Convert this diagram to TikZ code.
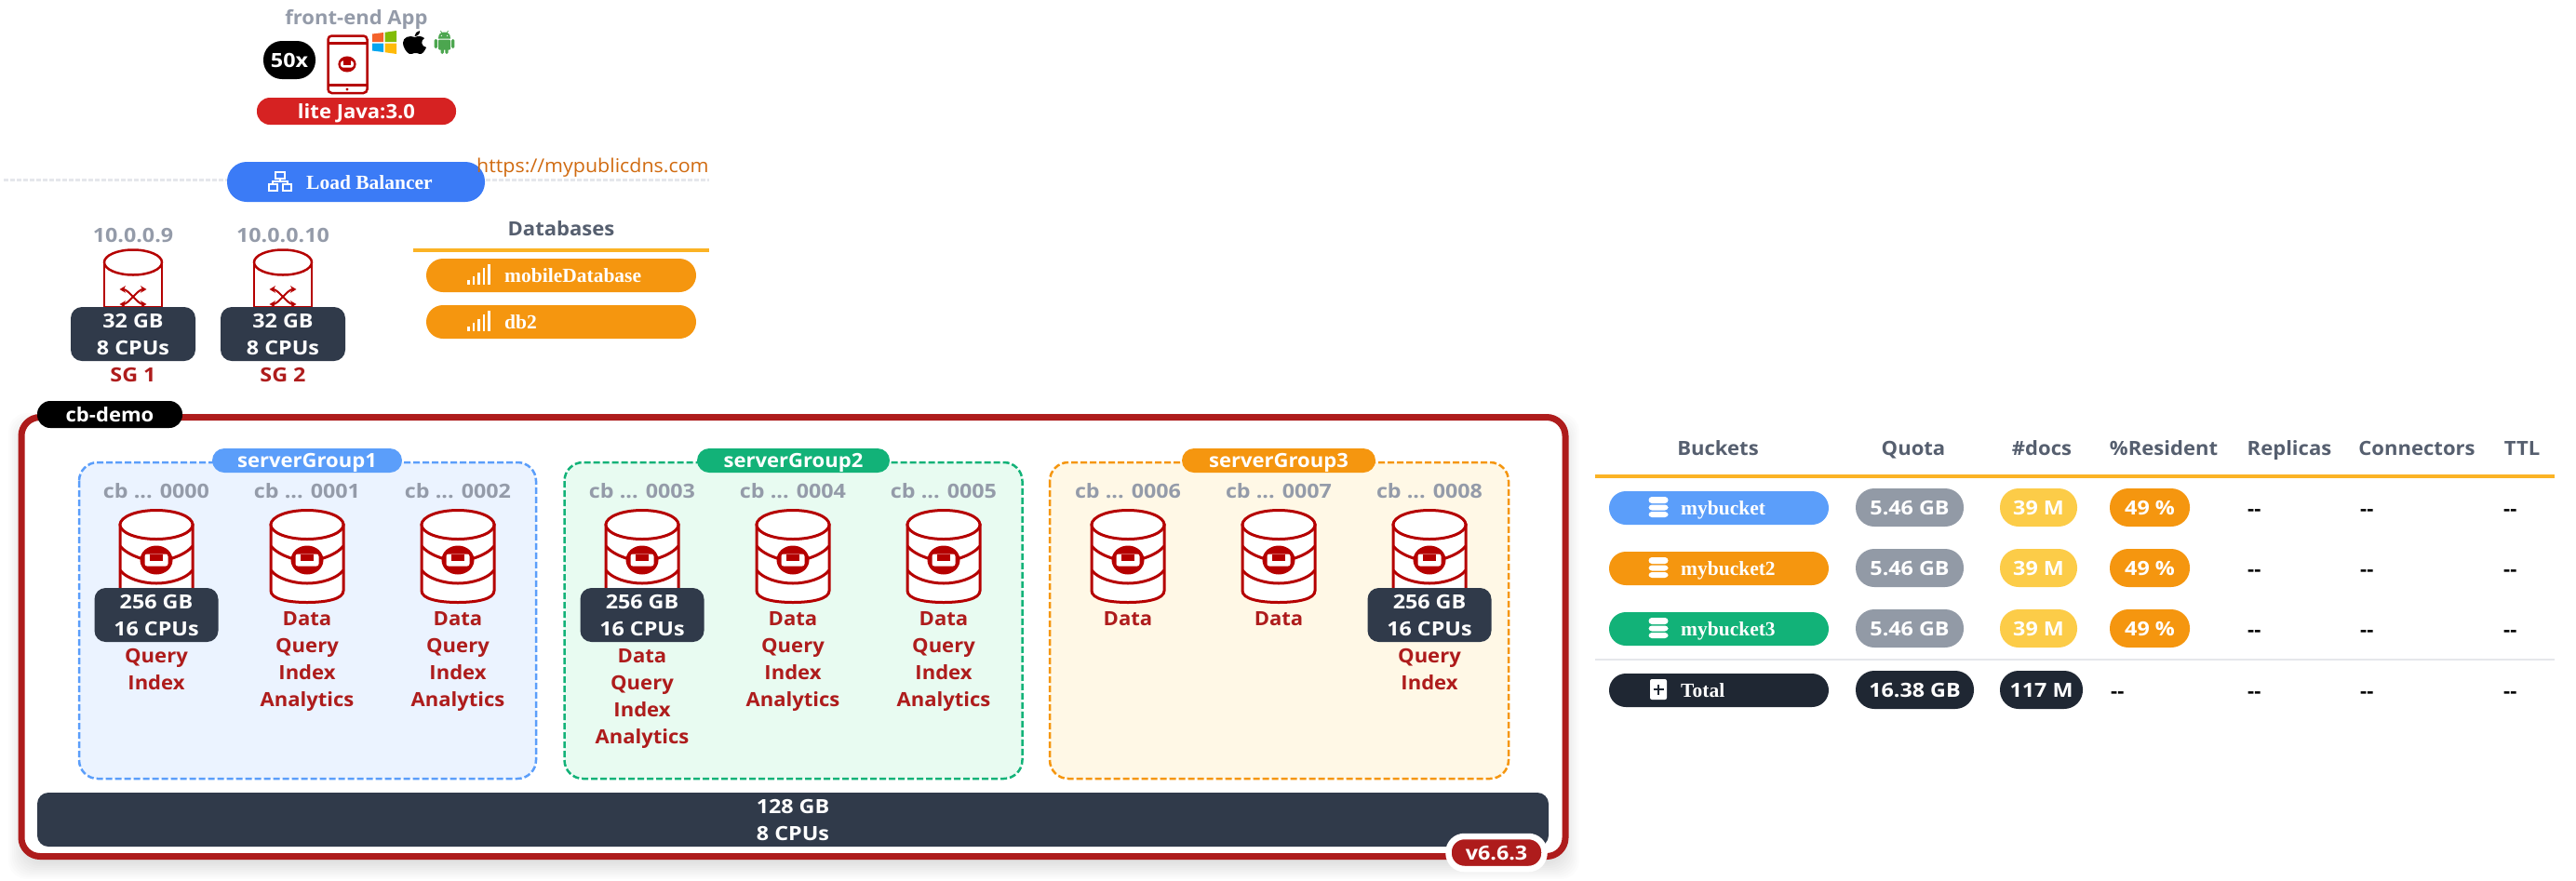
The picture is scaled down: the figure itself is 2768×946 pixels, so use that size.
\documentclass[tikz,border=0pt]{standalone}
\usepackage{fontspec}
\setmainfont{Open Sans}[FakeStretch=1.05]
\newfontfamily\numfont{Open Sans}[FakeStretch=1.11]
\newfontfamily\pillfont{Liberation Serif}
\usetikzlibrary{%
  arrows.meta,%
  positioning% wg. " of "
}
\definecolor{cbred}{HTML}{AE1C1C}
\definecolor{iconred}{HTML}{B50000}
\definecolor{liteRed}{HTML}{D62222}
\definecolor{slatebox}{HTML}{303A4A}
\definecolor{mute}{HTML}{949BA9}
\definecolor{headgray}{HTML}{565F6F}
\definecolor{blueline}{HTML}{5B9EFA}
\definecolor{greenline}{HTML}{12B278}
\definecolor{orangeline}{HTML}{F5960F}
\definecolor{lbblue}{HTML}{3B7BF6}
\definecolor{urlcolor}{HTML}{D06A10}
\definecolor{rule}{HTML}{FBB325}
\definecolor{palegray}{HTML}{E5E7EB}
\definecolor{nightbox}{HTML}{1F2733}
\definecolor{quotagray}{HTML}{929AA6}
\definecolor{docsyellow}{HTML}{FCCC48}
\definecolor{bluebg}{HTML}{EBF3FF}
\definecolor{greenbg}{HTML}{E8FBF1}
\definecolor{orangebg}{HTML}{FFF8E6}
\definecolor{winorange}{HTML}{F4622B}
\definecolor{wingreen}{HTML}{81BC06}
\definecolor{winblue}{HTML}{05A6F0}
\definecolor{winyellow}{HTML}{FFBA08}
\definecolor{droid}{HTML}{4CA64F}

\begin{document}
\begin{tikzpicture}[
    x=1pt, y=-1pt,
    txt/.style={inner sep=0pt, text height=15pt, text depth=0pt, font=\bfseries\fontsize{21}{29}\selectfont},
    num/.style={font=\numfont\bfseries\fontsize{21}{29}\selectfont},
    pill/.style={txt, text=white, rounded corners=14pt},
    spec/.style={fill=slatebox, text=white, inner sep=0pt, rounded corners=12pt, minimum height=58pt, minimum width=133pt, align=center, num},
    role/.style={anchor=north, inner sep=0pt, text=cbred, align=center, font=\bfseries\fontsize{21}{29}\selectfont},
    group/.style={line width=2.5pt, dash pattern=on 7pt off 3pt, rounded corners=20pt},
    sertxt/.style={inner sep=0pt, anchor=west, text=white, text height=15pt, text depth=0pt, font=\pillfont\bfseries\fontsize{21.5}{29}\selectfont},
    head/.style={txt, text=headgray},
    nil/.style={txt, anchor=west, text=black},
    cblogo/.pic={
      \fill[iconred] (0,0) ellipse [x radius=17.5pt, y radius=15.5pt];
      \fill[white, rounded corners=2.5pt] (-12.5,-6.5) rectangle (12.5,6.5);
      \fill[iconred] (-7,-6.5) rectangle (7,1);
    },
    server/.pic={
      \filldraw[iconred, fill=white, line width=3pt] (-39,17) -- (-39,88) .. controls (-39,97) and (-20,100.5) .. (0,100.5)
        .. controls (20,100.5) and (39,97) .. (39,88) -- (39,17) -- cycle;
      \filldraw[iconred, fill=white, line width=3pt] (0,17) ellipse [x radius=39pt, y radius=15.5pt];
      \draw[iconred, line width=3pt] (-39,40) .. controls (-33,47) and (-24,51) .. (-14,54);
      \draw[iconred, line width=3pt] (39,40) .. controls (33,47) and (24,51) .. (14,54);
      \draw[iconred, line width=3pt] (-39,66) .. controls (-32,75) and (-15,80) .. (0,80) .. controls (15,80) and (32,75) .. (39,66);
      \pic at (0,55) {cblogo};
    },
    gateway/.pic={
      \filldraw[iconred, fill=white, line width=2.5pt] (-31,15) -- (-31,63) -- (31,63) -- (31,15) -- cycle;
      \filldraw[iconred, fill=white, line width=2.5pt] (0,15) ellipse [x radius=31pt, y radius=13.5pt];
      \draw[iconred, line width=2pt, {Stealth[length=6.5pt,width=7.5pt]}-{Stealth[length=6.5pt,width=7.5pt]}] (-14.5,44) .. controls (-5,44) and (5,60) .. (14.5,60);
      \draw[iconred, line width=2pt, {Stealth[length=6.5pt,width=7.5pt]}-{Stealth[length=6.5pt,width=7.5pt]}] (-14.5,60) .. controls (-5,60) and (5,44) .. (14.5,44);
    },
    sitemap/.pic={
      \draw[white, line width=2pt] (-5,-10) rectangle (5,-3);
      \draw[white, line width=2pt] (-12,3) rectangle (-3,10);
      \draw[white, line width=2pt] (3,3) rectangle (12,10);
      \draw[white, line width=2pt] (0,-3) -- (0,0) (-8,3) -- (-8,0) -- (8,0) -- (8,3);
    },
    bars/.pic={
      \foreach \i/\h in {0/5,1/9,2/13,3/18,4/22}{
        \fill[white] (\i*5.6,0) rectangle (\i*5.6+2.6,-\h);}
    },
    discs/.pic={
      \fill[white, rounded corners=3.5pt] (-10.5,-11) rectangle (10.5,-4);
      \fill[white, rounded corners=3.5pt] (-10.5,-2.5) rectangle (10.5,3.5);
      \fill[white, rounded corners=3.5pt] (-10.5,5) rectangle (10.5,11);
    },
    plusbox/.pic={
      \fill[white, rounded corners=2pt] (-9,-11) rectangle (9,11);
      \draw[nightbox, line width=2.8pt] (-5.5,0) -- (5.5,0) (0,-5.5) -- (0,5.5);
    }
  ]
  \useasboundingbox (0,0) rectangle (2768,946);

  % draw front-end app
  \node[txt, text=mute] at (383,19) (frontend) {front-end App};
  \node[pill, num, fill=black, rounded corners=20pt, minimum width=56pt, minimum height=41pt] at (311,64.5) (count) {50x};
  \node[pill, fill=liteRed, minimum width=214pt, minimum height=29pt] at (383,119.5) (sdk) {lite Java:3.0};
  \draw[iconred, line width=2.5pt, rounded corners=4pt] (352.5,38.5) rectangle (394.5,100);
  \draw[iconred, line width=2.5pt] (352.5,46.5) -- (394.5,46.5) (352.5,91.5) -- (394.5,91.5);
  \fill[iconred] (373,96) circle (1.6pt);
  \pic[scale=.55] at (373,69) {cblogo};

  % windows, apple, android
  \fill[winorange] (400,36.5) -- (412,35) -- (412,45) -- (400,45) -- cycle;
  \fill[wingreen] (413.5,34.8) -- (426,33) -- (426,45) -- (413.5,45) -- cycle;
  \fill[winblue] (400,46.5) -- (412,46.5) -- (412,56) -- (400,54.5) -- cycle;
  \fill[winyellow] (413.5,46.5) -- (426,46.5) -- (426,58) -- (413.5,56.2) -- cycle;
  \fill[black] (446,40) .. controls (449,38.5) and (453,38.5) .. (456,41) .. controls (452,43.5) and (452,49.5) .. (458,51)
    .. controls (456,56) and (453,58.5) .. (451,58) .. controls (449,57.5) and (447.5,56.5) .. (445.5,57)
    .. controls (443,57.5) and (442,58.5) .. (440,58) .. controls (436,56) and (433,50) .. (433,46)
    .. controls (433,40) and (440,37.5) .. (446,40) -- cycle;
  \fill[black] (445.5,39) .. controls (445.5,36) and (448,33.5) .. (451,33) .. controls (451.5,36) and (449,39) .. (445.5,39) -- cycle;
  \fill[droid] (471,41.5) .. controls (471,36) and (474,34.5) .. (477.5,34.5) .. controls (481,34.5) and (484,36) .. (484,41.5) -- cycle;
  \draw[droid, line width=.8pt] (473.5,33) -- (475,36) (481.5,33) -- (480,36);
  \fill[droid, rounded corners=1pt] (471,42.7) rectangle (484,53.5);
  \fill[droid, rounded corners=1.5pt] (466.7,42) rectangle (470,52) (485,42) rectangle (488.4,52)
    (473.5,50) rectangle (476.8,58) (478.4,50) rectangle (481.7,58);
  \fill[white] (474.3,38.3) circle (.7pt) (480.7,38.3) circle (.7pt);

  % draw load balancer
  \draw[palegray, line width=3pt, dash pattern=on 5pt off 2pt] (4,193) -- (762,193);
  \node[pill, fill=lbblue, rounded corners=21pt, minimum width=277pt, minimum height=43pt] at (382.5,195.5) (lb) {};
  \pic at (301,195) {sitemap};
  \node[sertxt] at (329,196) (lbname) {Load Balancer};
  \node[inner sep=0pt, text=urlcolor, anchor=west, text height=15pt, text depth=0pt, font=\fontsize{20.4}{29}\selectfont] at (512,178) (url) {https://mypublicdns.com};

  % draw sync gateways
  \foreach \n/\x/\ip in {1/143/10.0.0.9, 2/304/10.0.0.10}{
    \node[txt, num, text=mute] at (\x,253) (ip\n) {\ip};
    \pic at (\x,267) {gateway};
    \node[spec, minimum width=134pt] at (\x,359) (sg\n) {32 GB\\8 CPUs};
    \node[txt, num, text=cbred] at (\x,403) (sgname\n) {SG \n};}

  % draw databases
  \node[head] at (603,246) (dbhead) {Databases};
  \draw[rule, line width=4pt] (444,269) -- (762,269);
  \foreach \n/\y/\db in {1/296/mobileDatabase, 2/346/db2}{
    \node[pill, fill=orangeline, rounded corners=18pt, minimum width=290pt, minimum height=36pt] at (603,\y) (db\n) {};
    \pic at (502,\y+10) {bars};
    \node[sertxt] at (542,\y) (dbname\n) {\db};}

  % draw cluster
  \foreach \s in {-14,-12,...,14}{
    \fill[black, opacity=.012, rounded corners=20pt] (23-\s,458-\s) rectangle (1683+\s,931+\s);}
  \draw[cbred, fill=white, line width=7pt, rounded corners=20pt] (23,448.5) rectangle (1682,920.5);
  \node[pill, fill=black, minimum width=156pt, minimum height=29pt] at (118,445.5) (cluster) {cb-demo};

  % draw server groups
  \draw[group, draw=blueline, fill=bluebg] (85,497) rectangle (576,837);
  \draw[group, draw=greenline, fill=greenbg] (606.5,497) rectangle (1098.5,837);
  \draw[group, draw=orangeline, fill=orangebg] (1128,497) rectangle (1621,837);
  \node[pill, fill=blueline, rounded corners=13pt, minimum width=204pt, minimum height=26pt] at (330,495) (group1) {serverGroup1};
  \node[pill, fill=greenline, rounded corners=13pt, minimum width=207pt, minimum height=26pt] at (852.5,495) (group2) {serverGroup2};
  \node[pill, fill=orangeline, rounded corners=13pt, minimum width=208pt, minimum height=26pt] at (1374,495) (group3) {serverGroup3};

  % draw servers
  \foreach \n/\x/\t/\roles in {
      0000/168/697.5/{Query\\Index},
      0001/330/657.5/{Data\\Query\\Index\\Analytics},
      0002/492/657.5/{Data\\Query\\Index\\Analytics},
      0003/690/697.5/{Data\\Query\\Index\\Analytics},
      0004/852/657.5/{Data\\Query\\Index\\Analytics},
      0005/1014/657.5/{Data\\Query\\Index\\Analytics},
      0006/1212/657.5/{Data},
      0007/1374/657.5/{Data},
      0008/1536/697.5/{Query\\Index}}{
    \node[txt, num, text=mute] at (\x,528) (name\n) {cb ... \n};
    \pic at (\x,547) {server};
    \node[role] at (\x,\t) (roles\n) {\roles};}
  \foreach \n/\x in {0000/168, 0003/690, 0008/1536}{
    \node[spec] at (\x,661) (spec\n) {256 GB\\16 CPUs};}

  % draw admin bar and version
  \node[spec, minimum width=1624pt] at (852,881) (admin) {128 GB\\8 CPUs};
  \node[pill, num, fill=cbred, draw=white, line width=6.5pt, rounded corners=17pt, minimum width=103pt, minimum height=35pt] at (1608,916.5) (version) {v6.6.3};

  % draw bucket table
  \foreach \x/\h in {1846/Buckets, 2056/Quota, 2194/\#docs, 2325/\%Resident, 2460/Replicas, 2597/Connectors, 2710/TTL}{
    \node[head] at (\x,482) (col\x) {\h};}
  \draw[rule, line width=4pt] (1714,512) -- (2745,512);
  \draw[palegray, line width=2pt] (1714,709) -- (2745,709);
  \foreach \y/\c/\b in {546/blueline/mybucket, 611/orangeline/mybucket2, 676/greenline/mybucket3}{
    \node[pill, fill=\c, rounded corners=18pt, minimum width=236pt, minimum height=36pt] at (1847,\y) (bucket\y) {};
    \pic at (1782,\y-1) {discs};
    \node[sertxt] at (1806,\y) (bname\y) {\b};
    \node[pill, num, fill=quotagray, rounded corners=20pt, minimum width=116pt, minimum height=41pt] at (2052,\y-.5) (quota\y) {5.46 GB};
    \node[pill, num, fill=docsyellow, rounded corners=20pt, minimum width=83pt, minimum height=41pt] at (2190.5,\y-.5) (docs\y) {39 M};
    \node[pill, num, fill=orangeline, rounded corners=20pt, minimum width=86pt, minimum height=41pt] at (2310,\y-.5) (res\y) {49 \%};
    \foreach \d in {2415,2536,2690}{
      \node[nil] at (\d,\y+1) (nil\y\d) {-{}-};}}

  % draw total row
  \node[pill, fill=nightbox, rounded corners=18pt, minimum width=236pt, minimum height=36pt] at (1847,742) (total) {};
  \pic at (1782,741) {plusbox};
  \node[sertxt] at (1806,742) (tname) {Total};
  \node[pill, num, fill=nightbox, rounded corners=20pt, minimum width=127pt, minimum height=41pt] at (2057.5,741.5) (tquota) {16.38 GB};
  \node[pill, num, fill=nightbox, rounded corners=20pt, minimum width=89pt, minimum height=41pt] at (2193.5,741.5) (tdocs) {117 M};
  \foreach \d in {2268,2415,2536,2690}{
    \node[nil] at (\d,743) (tnil\d) {-{}-};}
\end{tikzpicture}
\end{document}
